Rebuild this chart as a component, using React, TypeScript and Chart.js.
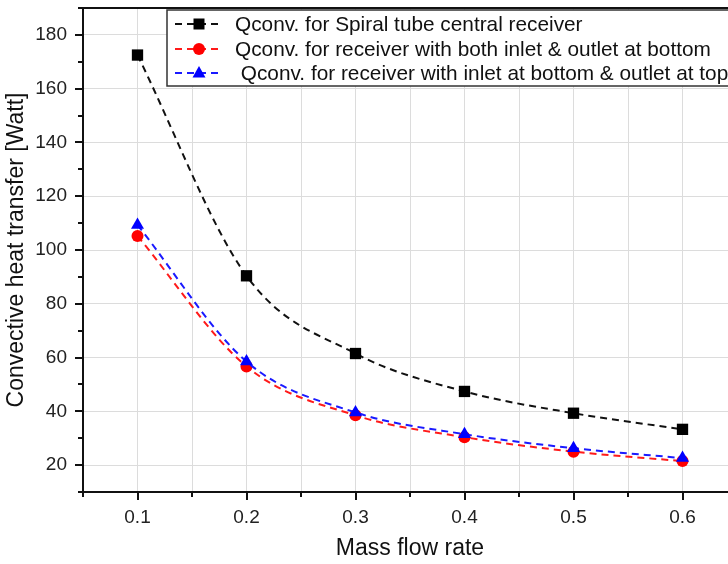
import React, { useEffect, useRef } from "react";
import { Chart, registerables } from "chart.js";

Chart.register(...registerables);

// ---- data ----
const massFlowRate = [0.1, 0.2, 0.3, 0.4, 0.5, 0.6];
const spiralTube = [172.5, 90.4, 61.5, 47.4, 39.3, 33.3];
const bothAtBottom = [105.2, 56.7, 38.5, 30.4, 25.0, 21.5];
const inletBottomOutletTop = [109.3, 58.5, 39.6, 31.5, 26.3, 22.6];
const seriesLabels = [
  "Qconv. for Spiral tube central receiver",
  "Qconv. for receiver with both inlet & outlet at bottom",
  " Qconv. for receiver with inlet at bottom & outlet at top",
];
const xTitle = "Mass flow rate";
const yTitle = "Convective heat transfer [Watt]";

const FONT = "'Liberation Sans', Arial, Helvetica, sans-serif";
const CANVAS_W = 745;

const isMajorX = (v: number) => Math.abs(v * 10 - Math.round(v * 10)) < 1e-6;
const isMajorY = (v: number) => Math.abs(v % 20) < 1e-6;

const decorPlugin = {
  id: "decor",
  afterDraw(chart: any) {
    const { ctx, chartArea } = chart;
    const xs = chart.scales.x;
    const ys = chart.scales.y;
    ctx.save();
    // top border
    ctx.strokeStyle = "#111";
    ctx.lineWidth = 2;
    ctx.beginPath();
    ctx.moveTo(chartArea.left - 1, chartArea.top);
    ctx.lineTo(chartArea.right + 10, chartArea.top);
    ctx.stroke();
    // x ticks
    ctx.lineWidth = 2;
    xs.ticks.forEach((t: any) => {
      const px = Math.round(xs.getPixelForValue(t.value));
      const len = isMajorX(t.value) ? 8 : 5;
      ctx.beginPath();
      ctx.moveTo(px, chartArea.bottom);
      ctx.lineTo(px, chartArea.bottom + len);
      ctx.stroke();
    });
    ys.ticks.forEach((t: any) => {
      const py = Math.round(ys.getPixelForValue(t.value));
      const len = isMajorY(t.value) ? 8 : 5;
      ctx.beginPath();
      ctx.moveTo(chartArea.left, py);
      ctx.lineTo(chartArea.left - len, py);
      ctx.stroke();
    });

    // legend
    const boxL = 167, boxT = 10, boxB = 86;
    ctx.fillStyle = "#fff";
    ctx.fillRect(boxL, boxT, chart.width - boxL + 10, boxB - boxT);
    ctx.strokeStyle = "#333";
    ctx.lineWidth = 1.5;
    ctx.strokeRect(boxL, boxT, chart.width - boxL + 10, boxB - boxT);
    const rowY = [24, 49, 73];
    chart.data.datasets.forEach((ds: any, i: number) => {
      const y = rowY[i];
      ctx.strokeStyle = ds.borderColor;
      ctx.lineWidth = 2;
      ctx.setLineDash([7, 5]);
      ctx.beginPath();
      ctx.moveTo(175, y);
      ctx.lineTo(218, y);
      ctx.stroke();
      ctx.setLineDash([]);
      ctx.fillStyle = ds.pointBackgroundColor;
      ctx.beginPath();
      if (ds.pointStyle === "rect") {
        ctx.rect(199 - 5.5, y - 5.5, 11, 11);
      } else if (ds.pointStyle === "circle") {
        ctx.arc(199, y, 6, 0, Math.PI * 2);
      } else {
        ctx.moveTo(199, y - 7);
        ctx.lineTo(199 + 6.5, y + 4.5);
        ctx.lineTo(199 - 6.5, y + 4.5);
        ctx.closePath();
      }
      ctx.fill();
      ctx.fillStyle = "#111";
      ctx.font = `20.8px ${FONT}`;
      ctx.textBaseline = "middle";
      ctx.textAlign = "left";
      ctx.fillText(ds.label, 235, y + 1);
    });
    ctx.restore();
  },
};

const clearPad = (s: any) => {
  s.paddingTop = 0;
  s.paddingBottom = 0;
  s.paddingLeft = 0;
  s.paddingRight = 0;
};

export default function App() {
  const ref = useRef<HTMLCanvasElement | null>(null);
  useEffect(() => {
    if (!ref.current) return;
    const mk = (x: number[], y: number[]) => x.map((v, i) => ({ x: v, y: y[i] }));
    const chart = new Chart(ref.current, {
      type: "line",
      data: {
        datasets: [
          {
            label: seriesLabels[0],
            data: mk(massFlowRate, spiralTube),
            borderColor: "#111",
            backgroundColor: "#000",
            pointBackgroundColor: "#000",
            pointBorderColor: "#000",
            pointStyle: "rect",
            pointRadius: 8,
            pointBorderWidth: 0,
            borderWidth: 2,
            borderDash: [7, 5],
            cubicInterpolationMode: "monotone",
            order: 2,
          } as any,
          {
            label: seriesLabels[1],
            data: mk(massFlowRate, bothAtBottom),
            borderColor: "#ff1a1a",
            backgroundColor: "#ff0000",
            pointBackgroundColor: "#ff0000",
            pointBorderColor: "#ff0000",
            pointStyle: "circle",
            pointRadius: 6,
            pointBorderWidth: 0,
            borderWidth: 2,
            borderDash: [7, 5],
            cubicInterpolationMode: "monotone",
            order: 1,
          } as any,
          {
            label: seriesLabels[2],
            data: mk(massFlowRate, inletBottomOutletTop),
            borderColor: "#1a1aff",
            backgroundColor: "#0000ff",
            pointBackgroundColor: "#0000ff",
            pointBorderColor: "#0000ff",
            pointStyle: "triangle",
            pointRadius: 7.5,
            pointBorderWidth: 0,
            borderWidth: 2,
            borderDash: [7, 5],
            cubicInterpolationMode: "monotone",
            order: 0,
          } as any,
        ],
      },
      options: {
        animation: false,
        responsive: false,
        maintainAspectRatio: false,
        layout: { padding: { top: 6, right: 0, left: 0, bottom: 0 } },
        plugins: { legend: { display: false }, tooltip: { enabled: false } },
        scales: {
          x: {
            type: "linear",
            min: 0.05,
            max: 0.65,
            afterFit: (s: any) => {
              s.height = 72;
              clearPad(s);
            },
            border: { color: "#111", width: 2 },
            grid: { color: "#dcdcdc", lineWidth: 1, drawTicks: false },
            ticks: {
              stepSize: 0.05,
              autoSkip: false,
              maxRotation: 0,
              padding: 14,
              color: "#222",
              font: { family: FONT, size: 19 },
              callback: (v: any) => (isMajorX(Number(v)) ? Number(v).toFixed(1) : ""),
            },
            title: {
              display: true,
              text: xTitle,
              color: "#111",
              font: { family: FONT, size: 23 },
              padding: { top: 0, bottom: 2 },
            },
          },
          y: {
            type: "linear",
            min: 10,
            max: 190,
            afterFit: (s: any) => {
              s.width = 83;
              clearPad(s);
            },
            border: { color: "#111", width: 2 },
            grid: {
              color: (c: any) => (c.tick && isMajorY(c.tick.value) ? "#dcdcdc" : "rgba(0,0,0,0)"),
              lineWidth: 1,
              drawTicks: false,
            },
            ticks: {
              stepSize: 10,
              autoSkip: false,
              padding: 16,
              color: "#222",
              font: { family: FONT, size: 19 },
              callback: (v: any) => (isMajorY(Number(v)) ? String(v) : ""),
            },
            title: {
              display: true,
              text: yTitle,
              color: "#111",
              font: { family: FONT, size: 23 },
              padding: { top: 3, bottom: 0 },
            },
          },
        },
      },
      plugins: [decorPlugin],
    });
    return () => chart.destroy();
  }, []);
  return (
    <div
      style={{
        position: "fixed",
        left: 0,
        top: 0,
        width: 728,
        height: 564,
        overflow: "hidden",
        background: "#fff",
      }}
    >
      <div style={{ width: CANVAS_W, height: 564 }}>
        <canvas ref={ref} width={CANVAS_W} height={564} style={{ display: "block" }} />
      </div>
    </div>
  );
}
